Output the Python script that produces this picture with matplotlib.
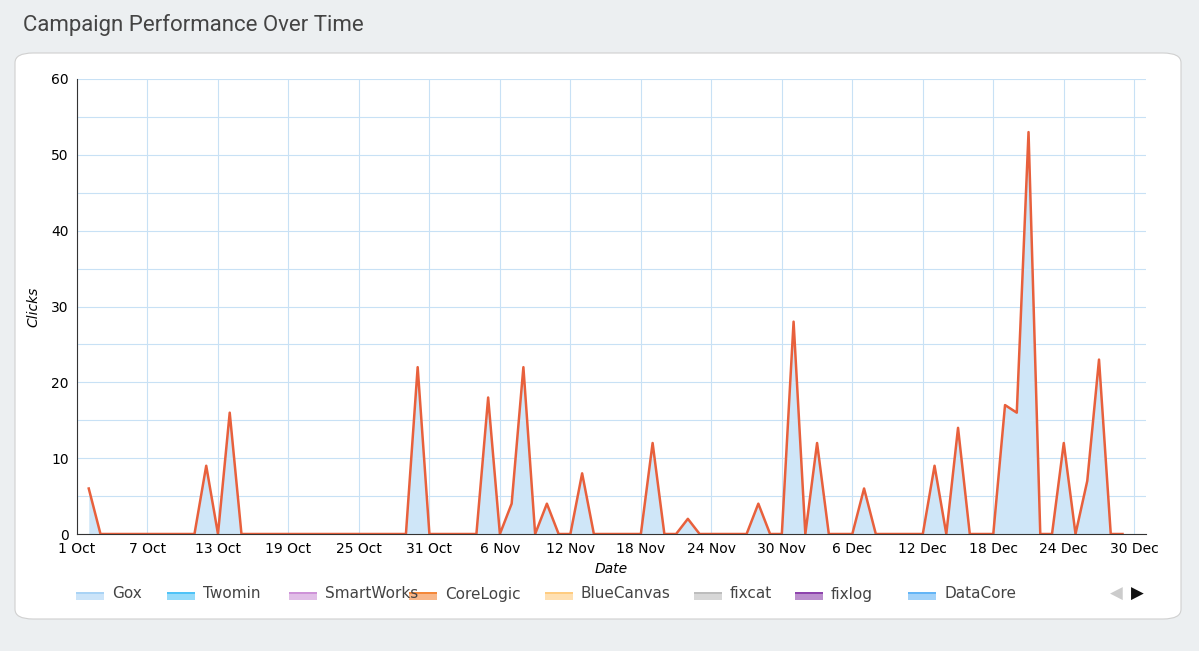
import matplotlib
matplotlib.use("Agg")
import matplotlib.pyplot as plt
import matplotlib.dates as mdates
from matplotlib.patches import FancyBboxPatch, Rectangle
import datetime as dt

start = dt.date(2023, 10, 1)
n_days = 90
peaks = {1: 6, 11: 9, 13: 16, 29: 22, 35: 18, 37: 4, 38: 22, 40: 4, 43: 8, 49: 12,
         52: 2, 58: 4, 61: 28, 63: 12, 67: 6, 73: 9, 75: 14, 79: 17, 80: 16, 81: 53,
         84: 12, 86: 7, 87: 23}
dates = [start + dt.timedelta(days=i) for i in range(1, n_days)]
clicks = [peaks.get(i, 0) for i in range(1, n_days)]
legend_names = ["Gox", "Twomin", "SmartWorks", "CoreLogic", "BlueCanvas", "fixcat", "fixlog", "DataCore"]
legend_colors = ["#a9d3f5", "#4fc3f7", "#ce93d8", "#f4883a", "#ffcc80", "#bdbdbd", "#8e44ad", "#64b5f6"]

fig = plt.figure(figsize=(11.99, 6.51), dpi=100)
fig.patch.set_facecolor("#eceff1")
card = FancyBboxPatch((15/1199, 1 - 619/651), 1166/1199, (619-53)/651, transform=fig.transFigure,
                      boxstyle="round,pad=0,rounding_size=0.015", fc="white", ec="#d0d0d0", lw=0.8,
                      zorder=-5)
fig.patches.append(card)
fig.text(23/1199, 1 - 25/651, "Campaign Performance Over Time", fontsize=16, color="#444444",
         family="Roboto", va="center")

ax = fig.add_axes([77/1199, 1-534/651, (1146-77)/1199, (534-79)/651], zorder=2)
ax.patch.set_alpha(0)
dn = mdates.date2num(dates)
ax.fill_between(dn, clicks, color="#cfe6f8", lw=0)
ax.plot(dn, clicks, color="#e8603c", lw=1.8)
ax.set_xlim(mdates.date2num(start), mdates.date2num(start) + 91)
ax.set_ylim(0, 60)
ticks = [mdates.date2num(start) + 6*i for i in range(16)]
ax.set_xticks(ticks)
ax.set_xticklabels([(start + dt.timedelta(days=6*i)).strftime("%-d %b") for i in range(16)])
ax.set_yticks(range(0, 61, 10))
ax.set_yticks(range(0, 61, 5), minor=True)
ax.grid(True, which="both", color="#c8e1f5", lw=0.8)
ax.set_axisbelow(True)
ax.tick_params(which="both", length=0, labelsize=10, pad=6)
for s in ["top", "right"]:
    ax.spines[s].set_visible(False)
ax.spines["left"].set_color("#333333"); ax.spines["bottom"].set_color("#333333")
ax.set_xlabel("Date", fontstyle="italic", fontsize=10, labelpad=4)
ax.set_ylabel("Clicks", fontstyle="italic", fontsize=10, labelpad=8)

xs = [76, 167, 289, 409, 545, 694, 795, 908]
for name, col, x in zip(legend_names, legend_colors, xs):
    xp = x/1199
    fig.patches.append(Rectangle((xp, 1-600/651), 28/1199, 8/651, transform=fig.transFigure,
                                 fc=col, alpha=0.6, ec="none"))
    fig.patches.append(Rectangle((xp, 1-594/651), 28/1199, 2/651, transform=fig.transFigure,
                                 fc=col, ec="none"))
    fig.text(xp + 36/1199, 1-594/651, name, fontsize=11, color="#444444", va="center")
fig.text(1110/1199, 1-594/651, "◀", fontsize=12, color="#cccccc", va="center")
fig.text(1131/1199, 1-594/651, "▶", fontsize=12, color="#111111", va="center")
fig.savefig("out.png", dpi=100, facecolor=fig.get_facecolor())
